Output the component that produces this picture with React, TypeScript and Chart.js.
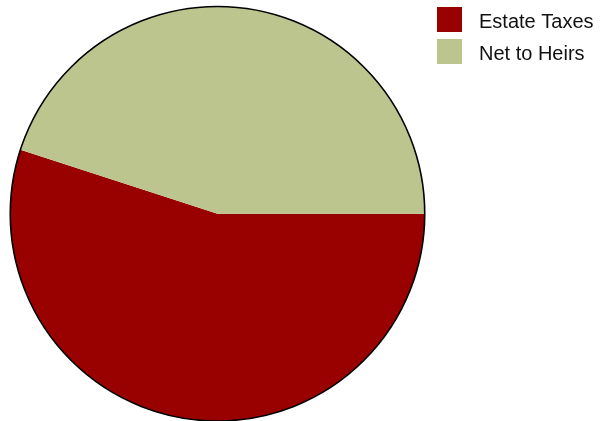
import React, { useEffect, useRef } from "react";
import { Chart, registerables } from "chart.js";

Chart.register(...registerables);

const categories = ["Estate Taxes", "Net to Heirs"];
const values = [55, 45];
const colors = ["#990000", "#BDC58F"];

const outlinePlugin = {
  id: "outline",
  afterDatasetsDraw(chart: any) {
    const meta = chart.getDatasetMeta(0);
    const arc = meta.data[0];
    if (!arc) return;
    const { x, y, outerRadius } = arc.getProps(["x", "y", "outerRadius"], true);
    const ctx = chart.ctx;
    ctx.save();
    ctx.beginPath();
    ctx.arc(x, y, outerRadius, 0, Math.PI * 2);
    ctx.lineWidth = 1.6;
    ctx.strokeStyle = "#000";
    ctx.stroke();
    ctx.restore();
  },
};

const legendPlugin = {
  id: "customLegend",
  afterDraw(chart: any) {
    const ctx = chart.ctx;
    const labels = chart.data.labels as string[];
    const bg = chart.data.datasets[0].backgroundColor as string[];
    ctx.save();
    ctx.font = '20px "Liberation Sans", Arial, sans-serif';
    ctx.textBaseline = "alphabetic";
    ctx.fillStyle = "#000";
    labels.forEach((label, i) => {
      const top = 7 + i * 32;
      ctx.fillStyle = bg[i];
      ctx.fillRect(437, top, 25, 25);
      ctx.fillStyle = "#111";
      ctx.fillText(label, 479, top + 20.5);
    });
    ctx.restore();
  },
};

export default function App() {
  const ref = useRef<HTMLCanvasElement | null>(null);
  useEffect(() => {
    if (!ref.current) return;
    const chart = new Chart(ref.current, {
      type: "pie",
      data: {
        labels: categories,
        datasets: [
          {
            data: values,
            backgroundColor: colors,
            borderWidth: 0,
          },
        ],
      },
      options: {
        animation: false,
        responsive: false,
        rotation: 90,
        layout: { padding: { left: 10, right: 178, top: 6.5, bottom: 0 } },
        plugins: {
          legend: { display: false },
          tooltip: { enabled: false },
        },
      },
      plugins: [outlinePlugin, legendPlugin],
    });
    return () => chart.destroy();
  }, []);
  return (
    <div style={{ position: "fixed", left: 0, top: 0, width: 603, height: 421, background: "#fff" }}>
      <canvas ref={ref} width={603} height={421} style={{ width: 603, height: 421 }} />
    </div>
  );
}
